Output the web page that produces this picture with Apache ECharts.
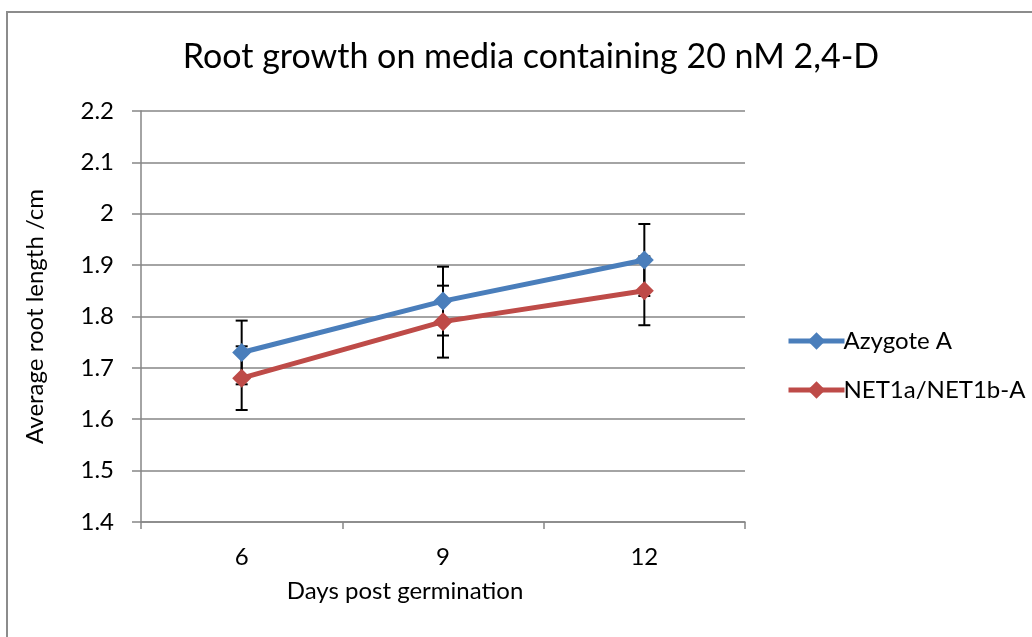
<!DOCTYPE html>
<html>
<head>
<meta charset="utf-8">
<script src="https://cdn.jsdelivr.net/npm/echarts@6/dist/echarts.min.js"></script>
<style>
  html, body { margin: 0; padding: 0; background: #fff; }
  #chart { width: 1032px; height: 637px; }
</style>
</head>
<body>
<div id="chart"></div>
<script>
// Days post germination
const days = ['6', '9', '12'];
// Average root length (cm) and standard error for each line
const azygoteMean = [1.73, 1.83, 1.91];
const azygoteErr = [0.062, 0.067, 0.070];
const netMean = [1.68, 1.79, 1.85];
const netErr = [0.062, 0.070, 0.067];
const seriesNames = ['Azygote A', 'NET1a/NET1b-A'];

const FONT = 'Lato, "Open Sans", sans-serif';
const LABEL_SIZE = 24;
const BLUE = '#4a7ebb';
const RED = '#be4b48';

function errorData(means, errs) {
  return means.map((m, i) => [i, m - errs[i], m + errs[i]]);
}

function renderErrorBar(params, api) {
  const x = api.value(0);
  const lo = api.coord([x, api.value(1)]);
  const hi = api.coord([x, api.value(2)]);
  const half = 6;
  const style = { stroke: '#000', lineWidth: 2 };
  return {
    type: 'group',
    children: [
      { type: 'line', shape: { x1: hi[0], y1: hi[1], x2: lo[0], y2: lo[1] }, style },
      { type: 'line', shape: { x1: hi[0] - half, y1: hi[1], x2: hi[0] + half, y2: hi[1] }, style },
      { type: 'line', shape: { x1: lo[0] - half, y1: lo[1], x2: lo[0] + half, y2: lo[1] }, style }
    ]
  };
}

const chart = echarts.init(document.getElementById('chart'), null, { renderer: 'canvas' });

chart.setOption({
  animation: false,
  backgroundColor: '#fff',
  graphic: [{
    type: 'rect',
    shape: { x: 7, y: 12, width: 1100, height: 700 },
    style: { fill: 'none', stroke: '#8c8c8c', lineWidth: 2 },
    z: 100
  }],
  title: {
    text: 'Root growth on media containing 20 nM 2,4-D',
    left: 526,
    textAlign: 'center',
    top: 35,
    textStyle: { fontFamily: FONT, fontSize: 34, fontWeight: 'normal', color: '#000' }
  },
  legend: {
    orient: 'vertical',
    left: 781,
    top: 324,
    itemGap: 25,
    itemWidth: 56,
    itemHeight: 22,
    lineStyle: { width: 5 },
    data: seriesNames,
    textStyle: { fontFamily: FONT, fontSize: LABEL_SIZE, color: '#000', padding: [0, 0, 0, -6] }
  },
  grid: { left: 141, right: 287, top: 111, bottom: 115 },
  xAxis: {
    type: 'category',
    data: days,
    boundaryGap: true,
    name: 'Days post germination',
    nameLocation: 'middle',
    nameGap: 57,
    nameTextStyle: { fontFamily: FONT, fontSize: LABEL_SIZE, color: '#000', padding: [0, 76, 0, 0] },
    axisLine: { lineStyle: { color: '#868686', width: 1.5 } },
    axisTick: { show: true, length: 7, lineStyle: { color: '#868686', width: 1.5 } },
    axisLabel: { fontFamily: FONT, fontSize: LABEL_SIZE, color: '#000', margin: 23 }
  },
  yAxis: {
    type: 'value',
    min: 1.4,
    max: 2.2,
    interval: 0.1,
    name: 'Average root length /cm',
    nameLocation: 'middle',
    nameGap: 94,
    nameTextStyle: { fontFamily: FONT, fontSize: LABEL_SIZE, color: '#000' },
    axisLine: { show: true, lineStyle: { color: '#868686', width: 1.5 } },
    axisTick: { show: true, length: 9, lineStyle: { color: '#868686', width: 1.5 } },
    axisLabel: {
      fontFamily: FONT, fontSize: LABEL_SIZE, color: '#000', margin: 27,
      formatter: v => String(Math.round(v * 10) / 10)
    },
    splitLine: { lineStyle: { color: '#868686', width: 1.5 } }
  },
  series: [
    {
      name: seriesNames[0],
      type: 'line',
      data: azygoteMean,
      symbol: 'diamond',
      symbolSize: 19,
      color: BLUE,
      lineStyle: { width: 5, color: BLUE },
      itemStyle: { color: BLUE },
      z: 3
    },
    {
      name: seriesNames[1],
      type: 'line',
      data: netMean,
      symbol: 'diamond',
      symbolSize: 19,
      color: RED,
      lineStyle: { width: 5, color: RED },
      itemStyle: { color: RED },
      z: 3
    },
    {
      type: 'custom',
      name: 'azygote-err',
      data: errorData(azygoteMean, azygoteErr),
      renderItem: renderErrorBar,
      encode: { x: 0, y: [1, 2] },
      z: 2
    },
    {
      type: 'custom',
      name: 'net-err',
      data: errorData(netMean, netErr),
      renderItem: renderErrorBar,
      encode: { x: 0, y: [1, 2] },
      z: 2
    }
  ]
});
</script>
</body>
</html>
